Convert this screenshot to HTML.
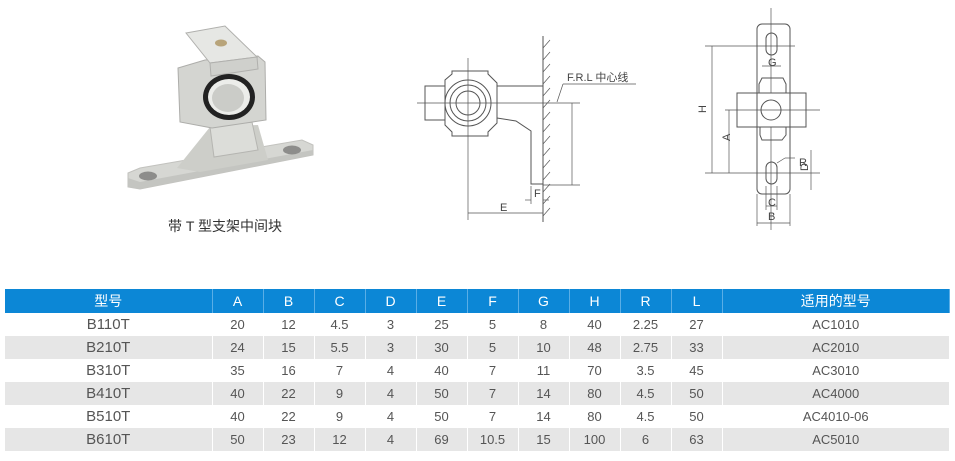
<!DOCTYPE html>
<html><head><meta charset="utf-8"><style>
body{margin:0;background:#fff;width:955px;height:461px;overflow:hidden;font-family:"Liberation Sans","Noto Sans CJK SC",sans-serif}
table{position:absolute;left:5px;top:289px;border-collapse:collapse;table-layout:fixed;width:945px}
td,th{height:23px;padding:0;text-align:center;font-size:13px;color:#555;font-weight:normal;border-right:1px solid #fff}
th{background:#0c87d6;color:#fff;font-size:14px;height:24px;border-right:1px solid #5aaee6}
tr.g td{background:#e6e6e6}
td:first-child{font-size:15px}
</style></head><body>
<svg width="955" height="461" style="position:absolute;left:0;top:0" font-family="Liberation Sans, Noto Sans CJK SC, sans-serif">
<!-- photo -->
<g>
<polygon points="128,173 140,168 302,140 313,145 313,155 140,189 128,187" fill="#d6d7d3" stroke="#c2c2be"/>
<polygon points="128,178 140,182 313,150 313,155 140,189 128,187" fill="#c4c5c1"/>
<ellipse cx="148" cy="176" rx="9" ry="4.5" fill="#8d8d8b"/>
<ellipse cx="292" cy="150" rx="9" ry="4.5" fill="#8d8d8b"/>
<polygon points="177,168 210,127 258,125 268,160 200,172" fill="#cdcec9"/>
<polygon points="210,127 252,122 258,150 214,157" fill="#dcddd9" stroke="#b5b5b1"/>
<polygon points="178,68 205,60 258,56 265,62 266,120 212,128 180,122" fill="#d4d5d1" stroke="#adadaa"/>
<polygon points="186,33 225,26 257,57 210,63" fill="#e6e7e4" stroke="#b0b0ad"/>
<polygon points="210,63 257,57 258,69 211,76" fill="#cfd0cc" stroke="#b0b0ad"/>
<ellipse cx="221" cy="43" rx="6" ry="3.5" fill="#b8a47a"/>
<ellipse cx="229" cy="97" rx="26" ry="23" fill="#222"/>
<ellipse cx="229" cy="97" rx="21" ry="18" fill="#ecedea"/>
<ellipse cx="228" cy="98" rx="16" ry="14" fill="#cbccc8"/>
</g>
<text x="225" y="231" font-size="14" text-anchor="middle" fill="#333">带 T 型支架中间块</text>

<!-- middle drawing -->
<g stroke="#555" fill="none" stroke-width="1">
<line x1="543" y1="36" x2="543" y2="222"/>
<g stroke-width="0.7">
<line x1="543" y1="48" x2="550" y2="40"/><line x1="543" y1="60" x2="550" y2="52"/><line x1="543" y1="72" x2="550" y2="64"/><line x1="543" y1="84" x2="550" y2="76"/><line x1="543" y1="96" x2="550" y2="88"/><line x1="543" y1="108" x2="550" y2="100"/><line x1="543" y1="120" x2="550" y2="112"/><line x1="543" y1="132" x2="550" y2="124"/><line x1="543" y1="144" x2="550" y2="136"/><line x1="543" y1="156" x2="550" y2="148"/><line x1="543" y1="168" x2="550" y2="160"/><line x1="543" y1="180" x2="550" y2="172"/><line x1="543" y1="192" x2="550" y2="184"/><line x1="543" y1="204" x2="550" y2="196"/><line x1="543" y1="216" x2="550" y2="208"/>
</g>
<line x1="468" y1="58" x2="468" y2="220" stroke-width="0.7"/>
<line x1="417" y1="103" x2="580" y2="103" stroke-width="0.7"/>
<polygon points="452,71 488,71 488,74 497,83 497,123 488,132 488,136 452,136 452,132 445,125 445,80 452,74"/>
<rect x="425" y="86" width="20" height="34"/>
<circle cx="468" cy="103" r="23"/><circle cx="468" cy="103" r="18"/><circle cx="468" cy="103" r="12"/>
<polyline points="497,86 543,86"/>
<polyline points="497,118 516,121 531,131 531,184 543,184"/>
<line x1="572" y1="103" x2="572" y2="185" stroke-width="0.7"/>
<line x1="543" y1="185" x2="580" y2="185" stroke-width="0.7"/>
<polyline points="563,84 636,84" stroke-width="0.7"/><line x1="563" y1="84" x2="557" y2="102" stroke-width="0.7"/>
<line x1="531" y1="186" x2="531" y2="204" stroke-width="0.7"/>
<line x1="525" y1="200" x2="531" y2="200" stroke-width="0.7"/><line x1="543" y1="200" x2="549" y2="200" stroke-width="0.7"/>
<line x1="468" y1="213" x2="543" y2="213" stroke-width="0.7"/>
</g>
<text x="567" y="81" font-size="11" fill="#444">F.R.L 中心线</text>
<text x="534" y="197" font-size="11" fill="#444">F</text>
<text x="500" y="211" font-size="11" fill="#444">E</text>

<!-- right drawing -->
<g stroke="#555" fill="none" stroke-width="1">
<line x1="771" y1="8" x2="771" y2="230" stroke-width="0.7"/>
<rect x="757" y="24" width="33" height="170" rx="5"/>
<rect x="766" y="33" width="11" height="22" rx="5.5"/>
<rect x="766" y="162" width="11" height="22" rx="5.5"/>
<polygon points="762,78 783,78 786,84 786,93 759,93 759,84"/>
<polygon points="760,127 786,127 786,135 782,140 762,140 760,135"/>
<rect x="737" y="93" width="69" height="34" fill="#fff"/>
<line x1="757" y1="93" x2="757" y2="127"/><line x1="790" y1="93" x2="790" y2="127"/>
<circle cx="771" cy="110" r="10"/>
<line x1="725" y1="110" x2="820" y2="110" stroke-width="0.7"/>
<line x1="705" y1="46" x2="795" y2="46" stroke-width="0.7"/>
<line x1="705" y1="173" x2="820" y2="173" stroke-width="0.7"/>
<line x1="712" y1="46" x2="712" y2="173" stroke-width="0.7"/>
<line x1="729" y1="110" x2="729" y2="173" stroke-width="0.7"/>
<line x1="762" y1="66" x2="781" y2="66" stroke-width="0.7"/>
<line x1="811" y1="150" x2="811" y2="190" stroke-width="0.7"/>
<line x1="777" y1="163" x2="785" y2="158" stroke-width="0.7"/><line x1="785" y1="158" x2="795" y2="158" stroke-width="0.7"/>
<line x1="766" y1="186" x2="766" y2="210" stroke-width="0.7"/><line x1="777" y1="186" x2="777" y2="210" stroke-width="0.7"/>
<line x1="757" y1="194" x2="757" y2="226" stroke-width="0.7"/><line x1="790" y1="194" x2="790" y2="226" stroke-width="0.7"/>
<line x1="757" y1="223" x2="790" y2="223" stroke-width="0.7"/>
<line x1="766" y1="206" x2="777" y2="206" stroke-width="0.7"/>
</g>
<text x="768" y="66" font-size="11" fill="#444">G</text>
<text x="706" y="121" font-size="11" fill="#444" transform="rotate(-90 702 117)">H</text>
<text x="731" y="148" font-size="11" fill="#444" transform="rotate(-90 727 145)">A</text>
<text x="799" y="166" font-size="11" fill="#444">R</text>
<text x="808" y="179" font-size="11" fill="#444" transform="rotate(-90 804 175)">D</text>
<text x="768" y="206" font-size="11" fill="#444">C</text>
<text x="768" y="220" font-size="11" fill="#444">B</text>
</svg>
<table>
<colgroup><col style="width:207px"><col style="width:51px"><col style="width:51px"><col style="width:51px"><col style="width:51px"><col style="width:51px"><col style="width:51px"><col style="width:51px"><col style="width:51px"><col style="width:51px"><col style="width:51px"><col></colgroup>
<tr><th>型号</th><th>A</th><th>B</th><th>C</th><th>D</th><th>E</th><th>F</th><th>G</th><th>H</th><th>R</th><th>L</th><th>适用的型号</th></tr>
<tr><td>B110T</td><td>20</td><td>12</td><td>4.5</td><td>3</td><td>25</td><td>5</td><td>8</td><td>40</td><td>2.25</td><td>27</td><td>AC1010</td></tr>
<tr class="g"><td>B210T</td><td>24</td><td>15</td><td>5.5</td><td>3</td><td>30</td><td>5</td><td>10</td><td>48</td><td>2.75</td><td>33</td><td>AC2010</td></tr>
<tr><td>B310T</td><td>35</td><td>16</td><td>7</td><td>4</td><td>40</td><td>7</td><td>11</td><td>70</td><td>3.5</td><td>45</td><td>AC3010</td></tr>
<tr class="g"><td>B410T</td><td>40</td><td>22</td><td>9</td><td>4</td><td>50</td><td>7</td><td>14</td><td>80</td><td>4.5</td><td>50</td><td>AC4000</td></tr>
<tr><td>B510T</td><td>40</td><td>22</td><td>9</td><td>4</td><td>50</td><td>7</td><td>14</td><td>80</td><td>4.5</td><td>50</td><td>AC4010-06</td></tr>
<tr class="g"><td>B610T</td><td>50</td><td>23</td><td>12</td><td>4</td><td>69</td><td>10.5</td><td>15</td><td>100</td><td>6</td><td>63</td><td>AC5010</td></tr>
</table>
</body></html>
